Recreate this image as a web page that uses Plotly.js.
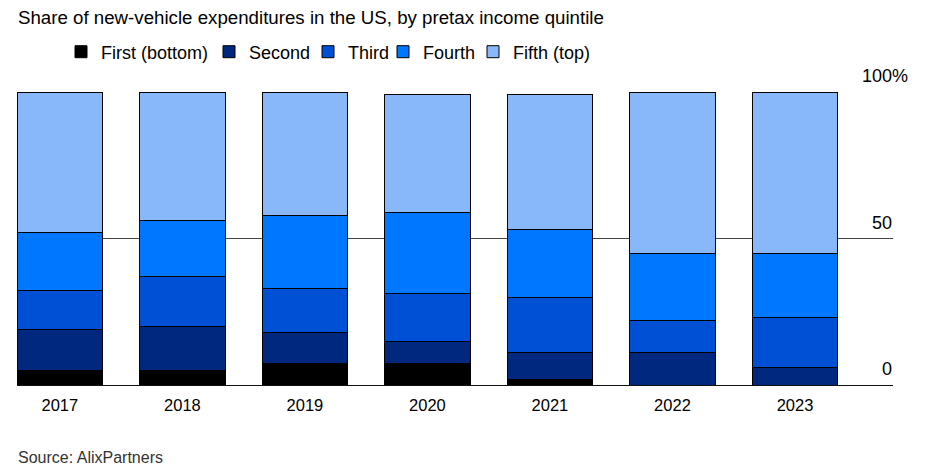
<!DOCTYPE html>
<html>
<head>
<meta charset="utf-8">
<script src="https://cdn.plot.ly/plotly-3.0.1.min.js"></script>
<style>
html,body{margin:0;padding:0;background:#fff;}
#chart{width:928px;height:476px;}
</style>
</head>
<body>
<div id="chart"></div>
<script>
const years = ["2017","2018","2019","2020","2021","2022","2023"];
const first  = [5.1, 5.1, 7.2, 7.2, 2.0, 0.0, 0.0];
const second = [14.0, 14.8, 10.8, 7.8, 9.0, 11.0, 6.1];
const third  = [13.0, 17.1, 15.0, 16.1, 18.9, 11.1, 16.9];
const fourth = [19.9, 19.0, 25.0, 27.8, 23.1, 22.9, 22.0];
const fifth  = [48.0, 44.0, 42.0, 40.2, 46.1, 55.0, 55.0];
const seriesNames = ["First (bottom)", "Second", "Third", "Fourth", "Fifth (top)"];
const seriesColors = ["#000000", "#00287e", "#0050d6", "#0077ff", "#89b8fa"];
const yTickVals = [0, 50, 100];
const yTickText = ["0", "50", "100%"];

const FONT = "Liberation Sans, Arial, sans-serif";
const allSeries = [first, second, third, fourth, fifth];
// left edge (px) of each legend entry
const legendLeft = [61, 209, 308, 383, 473];
const legendIds = ["legend", "legend2", "legend3", "legend4", "legend5"];

const traces = allSeries.map((vals, i) => ({
  type: "bar",
  name: seriesNames[i],
  x: years,
  y: vals,
  legend: legendIds[i],
  marker: {color: seriesColors[i], line: {color: "#000000", width: 1}},
  hoverinfo: "skip"
}));

const annotations = yTickVals.map((v, i) => ({
  xref: "paper", yref: "y",
  x: 1, y: v,
  xanchor: "right", yanchor: "bottom",
  xshift: yTickText[i].endsWith("%") ? 17 : 1,
  yshift: 4,
  text: yTickText[i],
  showarrow: false,
  font: {family: FONT, size: 18, color: "#000"}
}));
annotations.push({
  xref: "paper", yref: "paper",
  x: 0, y: -0.249,
  xanchor: "left", yanchor: "middle",
  xshift: -1,
  text: "Source: AlixPartners",
  showarrow: false,
  font: {family: FONT, size: 16, color: "#333"}
});

const layout = {
  width: 928, height: 476,
  margin: {l: 17, r: 35, t: 92, b: 91},
  paper_bgcolor: "#fff", plot_bgcolor: "#fff",
  barmode: "stack",
  bargap: 0.3,
  font: {family: FONT, color: "#000"},
  title: {
    text: "Share of new-vehicle expenditures in the US, by pretax income quintile",
    xref: "container", yref: "container",
    x: 18/928, xanchor: "left",
    y: 1 - 17/476, yanchor: "middle",
    font: {family: FONT, size: 18.7, color: "#000"}
  },
  showlegend: true,
  xaxis: {
    type: "category",
    range: [-0.35, 6.8],
    showgrid: false,
    zeroline: false,
    showline: false,
    ticks: "",
    ticklabelstandoff: 8,
    tickfont: {family: FONT, size: 16.5, color: "#000"},
    fixedrange: true
  },
  yaxis: {
    range: [0, 100],
    tickvals: yTickVals,
    showticklabels: false,
    showgrid: true,
    gridcolor: "#444",
    gridwidth: 1,
    zeroline: true,
    zerolinecolor: "#111",
    zerolinewidth: 1,
    showline: false,
    fixedrange: true
  },
  annotations: annotations
};

legendIds.forEach((id, i) => {
  layout[id] = {
    orientation: "h",
    xref: "container", yref: "container",
    x: legendLeft[i] / 928, xanchor: "left",
    y: 1 - 52/476, yanchor: "middle",
    font: {family: FONT, size: 18, color: "#000"},
    bgcolor: "rgba(0,0,0,0)"
  };
});

Plotly.newPlot("chart", traces, layout, {displayModeBar: false, staticPlot: true});
</script>
</body>
</html>
